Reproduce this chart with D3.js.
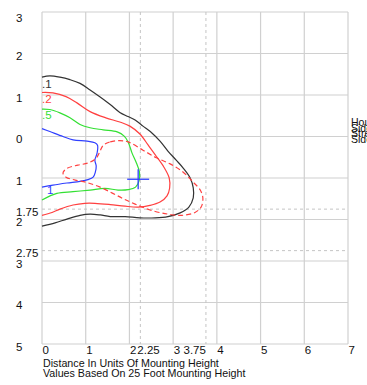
<!DOCTYPE html>
<html>
<head>
<meta charset="UTF-8">
<script src="https://d3js.org/d3.v7.min.js"></script>
<style>
  body { margin: 0; background: #fff; }
  svg { display: block; }
  text { font-family: "Liberation Sans", Arial, sans-serif; }
</style>
</head>
<body>
<svg width="367" height="385"></svg>
<script>
// grid / tick values (distance in mounting heights; y < 0 is house side)
const xTicks = [0, 1, 2, 3, 4, 5, 6, 7];
const yTicks = [-3, -2, -1, 0, 1, 2, 3, 4, 5];
const xDashed = [2.25, 3.75];
const yDashed = [1.75, 2.75];
const xLabels = [0, 1, 2, 2.25, 3, 3.75, 4, 5, 6, 7];
const yLabels = [-3, -2, -1, 0, 1, 1.75, 2, 2.75, 3, 4, 5];

// isofootcandle contours, [x, y]
const fc01 = [[0,-1.43],[0.18,-1.46],[0.41,-1.43],[0.64,-1.37],[0.87,-1.28],[1.10,-1.12],[1.33,-0.95],[1.56,-0.77],[1.78,-0.58],[1.97,-0.48],[2.13,-0.40],[2.31,-0.25],[2.52,-0.08],[2.70,0.11],[2.88,0.35],[3.07,0.57],[3.23,0.76],[3.39,1.00],[3.46,1.24],[3.46,1.48],[3.36,1.70],[3.16,1.84],[2.88,1.93],[2.59,1.96],[2.24,1.96],[1.90,1.93],[1.56,1.93],[1.33,1.89],[1.10,1.87],[0.87,1.90],[0.57,1.99],[0.30,2.08],[0,2.16]];
const fc02 = [[0,-1.06],[0.25,-1.05],[0.55,-0.96],[0.80,-0.81],[1.10,-0.60],[1.46,-0.45],[1.78,-0.35],[2.01,-0.25],[2.24,-0.06],[2.43,0.21],[2.61,0.47],[2.79,0.74],[2.91,1.00],[2.92,1.24],[2.86,1.43],[2.70,1.58],[2.47,1.66],[2.20,1.70],[1.90,1.68],[1.56,1.64],[1.21,1.61],[0.98,1.61],[0.71,1.65],[0.41,1.75],[0.23,1.83],[0,1.90]];
const fc05 = [[0,-0.66],[0.18,-0.65],[0.41,-0.57],[0.64,-0.45],[0.87,-0.29],[1.10,-0.21],[1.40,-0.16],[1.72,-0.11],[1.88,-0.01],[1.97,0.13],[2.06,0.40],[2.16,0.64],[2.23,0.86],[2.22,1.07],[2.14,1.22],[1.97,1.28],[1.74,1.29],[1.44,1.25],[1.10,1.29],[0.71,1.33],[0.34,1.37],[0,1.53]];
const fc1 = [[0,-0.19],[0.18,-0.12],[0.48,0],[0.71,0.08],[1.03,0.11],[1.21,0.15],[1.27,0.21],[1.26,0.40],[1.21,0.57],[1.24,0.71],[1.22,0.86],[1.17,0.98],[1.05,1.04],[0.87,1.08],[0.57,1.12],[0.25,1.17],[0,1.22]];
const fcDash = [[1.40,0.21],[1.56,0.13],[1.78,0.10],[1.97,0.13],[2.31,0.33],[2.63,0.52],[2.93,0.66],[3.23,0.86],[3.46,1.10],[3.62,1.29],[3.68,1.48],[3.64,1.70],[3.50,1.83],[3.20,1.90],[2.88,1.87],[2.47,1.77],[2.13,1.63],[1.88,1.51],[1.62,1.37],[1.33,1.22],[1.03,1.11],[0.76,1.05],[0.55,0.98],[0.48,0.88],[0.57,0.77],[0.82,0.69],[1.05,0.64],[1.24,0.52],[1.33,0.35]];
const aimPoint = [2.2, 1.03];
const sideLabels = ["House", "Side", "Street", "Side"];

const svg = d3.select("svg");
const x = d3.scaleLinear().domain([0, 7]).range([42, 348]);
const y = d3.scaleLinear().domain([-3, 5]).range([12, 344]);

const grid = svg.append("g").attr("stroke", "#d0d0d0").attr("stroke-width", 1.2);
grid.selectAll(".gx").data(xTicks).enter().append("line")
  .attr("x1", d => x(d)).attr("x2", d => x(d)).attr("y1", y(-3)).attr("y2", y(5));
grid.selectAll(".gy").data(yTicks).enter().append("line")
  .attr("x1", x(0)).attr("x2", x(7)).attr("y1", d => y(d)).attr("y2", d => y(d));
const dgrid = svg.append("g").attr("stroke", "#c4c4c4").attr("stroke-width", 1).attr("stroke-dasharray", "3,3");
dgrid.selectAll(".dx").data(xDashed).enter().append("line")
  .attr("x1", d => x(d)).attr("x2", d => x(d)).attr("y1", y(-3)).attr("y2", y(5));
dgrid.selectAll(".dy").data(yDashed).enter().append("line")
  .attr("x1", x(0)).attr("x2", x(7)).attr("y1", d => y(d)).attr("y2", d => y(d));

// tick labels
svg.append("g").selectAll("text").data(yLabels).enter().append("text")
  .attr("x", 16).attr("y", d => Math.max(y(d) + 6.5, 22))
  .attr("font-size", 11.5).attr("fill", "#111")
  .text(d => Math.abs(d));
svg.append("g").selectAll("text").data(xLabels).enter().append("text")
  .attr("x", d => d === 3.75 ? x(d) : d === 2.25 ? x(d) - 3 : x(d) + 0.5)
  .attr("text-anchor", d => d === 3.75 ? "end" : "start")
  .attr("y", 354).attr("font-size", 11.5).attr("fill", "#111")
  .text(d => d);

svg.append("text").attr("x", 43).attr("y", 367).attr("font-size", 10.7).attr("fill", "#111")
  .text("Distance In Units Of Mounting Height");
svg.append("text").attr("x", 43).attr("y", 377).attr("font-size", 10.7).attr("fill", "#111")
  .text("Values Based On 25 Foot Mounting Height");

// side legend, lines packed tightly as in the original
svg.append("g").selectAll("text").data(sideLabels).enter().append("text")
  .attr("x", 351).attr("y", (d, i) => 126 + i * 5.7)
  .attr("font-size", 10.5).attr("fill", "#111").text(d => d);

// contours
const line = d3.line().x(d => x(d[0])).y(d => y(d[1])).curve(d3.curveCatmullRom);
const curves = [
  { pts: fc01, color: "#333" },
  { pts: fc02, color: "#ff4040" },
  { pts: fc05, color: "#33e033" },
  { pts: fc1, color: "#3040ff" }
];
svg.append("g").selectAll("path").data(curves).enter().append("path")
  .attr("d", d => line(d.pts)).attr("fill", "none")
  .attr("stroke", d => d.color).attr("stroke-width", 1.2);
svg.append("path")
  .attr("d", d3.line().x(d => x(d[0])).y(d => y(d[1])).curve(d3.curveCatmullRomClosed)(fcDash))
  .attr("fill", "none").attr("stroke", "#ff4040").attr("stroke-width", 1.2)
  .attr("stroke-dasharray", "5,3");

// contour labels
const cl = [
  { t: ".1", v: fc01[0], c: "#333", dy: 7 },
  { t: ".2", v: fc02[0], c: "#ff4040", dy: 6 },
  { t: ".5", v: fc05[0], c: "#33e033", dy: 6 },
  { t: "1", v: fc1[fc1.length - 1], c: "#3040ff", dy: 3 }
];
svg.append("g").selectAll("text").data(cl).enter().append("text")
  .attr("x", d => x(d.v[0]) + (d.t === "1" ? 5 : 0))
  .attr("y", d => y(d.v[1]) + d.dy + 4)
  .attr("font-size", 11.5).attr("fill", d => d.c).text(d => d.t);

// aim point cross
const cross = svg.append("g").attr("stroke", "#3040ff").attr("stroke-width", 1.3);
cross.append("line").attr("x1", x(aimPoint[0]) - 11).attr("x2", x(aimPoint[0]) + 11)
  .attr("y1", y(aimPoint[1])).attr("y2", y(aimPoint[1]));
cross.append("line").attr("x1", x(aimPoint[0])).attr("x2", x(aimPoint[0]))
  .attr("y1", y(aimPoint[1]) - 10).attr("y2", y(aimPoint[1]) + 10);
</script>
</body>
</html>
